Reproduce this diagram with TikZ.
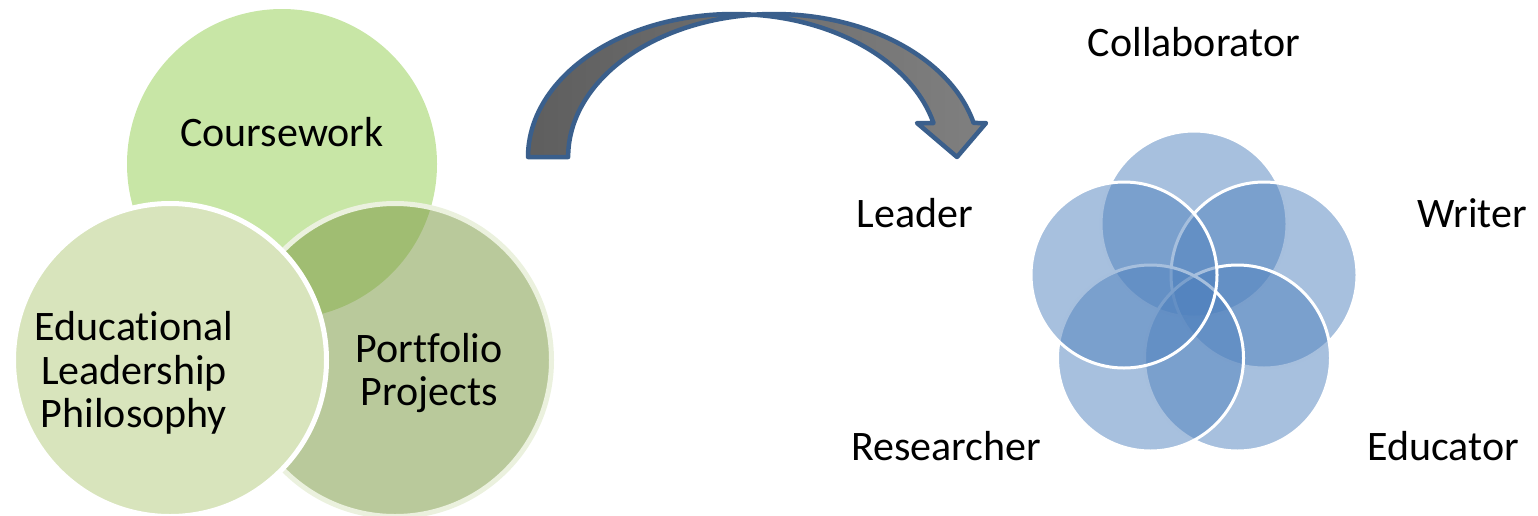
\documentclass[tikz,border=0pt]{standalone}
\usepackage{fontspec}
\setmainfont[Ligatures={NoCommon}]{Carlito}
\usepackage{tikz}

\definecolor{CourseGreen}{RGB}{200,230,166}
\definecolor{PhiloGreen}{RGB}{216,228,188}
\definecolor{FolioGreen}{RGB}{128,157,73}
\definecolor{FolioRim}{RGB}{235,241,222}
\definecolor{PetalBlue}{RGB}{79,129,189}
\definecolor{ArrowBlue}{RGB}{58,95,140}

\begin{document}
\begin{tikzpicture}[x=1pt, y=-1pt,
  petal/.style={draw=white, line width=3pt, circle, inner sep=0pt, minimum size=186pt, fill=PetalBlue, fill opacity=0.5},
  lbl/.style={font=\fontsize{42}{43.5}\selectfont, align=center, inner sep=0pt}]
\useasboundingbox (0,0) rectangle (1538,515);

\node[circle, inner sep=0pt, minimum size=310pt, fill=CourseGreen] (course) at (282,164) {};
\node[draw=FolioRim, line width=5pt, circle, inner sep=0pt, minimum size=313pt, fill=FolioGreen, fill opacity=0.55] (folio) at (395,360) {};
\node[draw=white, line width=5pt, circle, inner sep=0pt, minimum size=313pt, fill=PhiloGreen] (philo) at (170,360) {};

\node[lbl] (courseText) at (282,132) {Coursework};
\node[lbl] (philoText) at (134,373) {Educat\kern0pt ional\\Leadership\\Philosophy};
\node[lbl] (folioText) at (429,373) {Port\kern0pt fol\kern0pt io\\Projects};

%\draw (528,157) -- (990,123);
\draw[draw=ArrowBlue, line width=4.5pt, line join=round, left color=black!63, right color=black!50]
  (528,157) arc[start angle=180, end angle=275.6, x radius=205.7, y radius=143]
  arc[start angle=264.4, end angle=346.24, x radius=205.7, y radius=143]
  -- (986,123) -- (957,157) -- (917,123) -- (933.5,123)
  arc[start angle=346.24, end angle=275.6, x radius=205.7, y radius=143]
  arc[start angle=264.4, end angle=180, x radius=205.7, y radius=143] -- cycle;

\node[petal] (collabPetal) at (1194,224) {};
\node[petal] (writerPetal) at (1264,275) {};
\node[petal] (educPetal) at (1237.5,358) {};
\node[petal] (researchPetal) at (1150.5,358) {};
\node[petal] (leaderPetal) at (1124,275) {};

\node[lbl] (collab) at (1194,42) {Collaborator};
\node[lbl] (leader) at (915,213) {Leader};
\node[lbl] (writer) at (1472,213) {Writer};
\node[lbl] (research) at (946,446) {Researcher};
\node[lbl] (educ) at (1443,446) {Educator};

\end{tikzpicture}
\end{document}
